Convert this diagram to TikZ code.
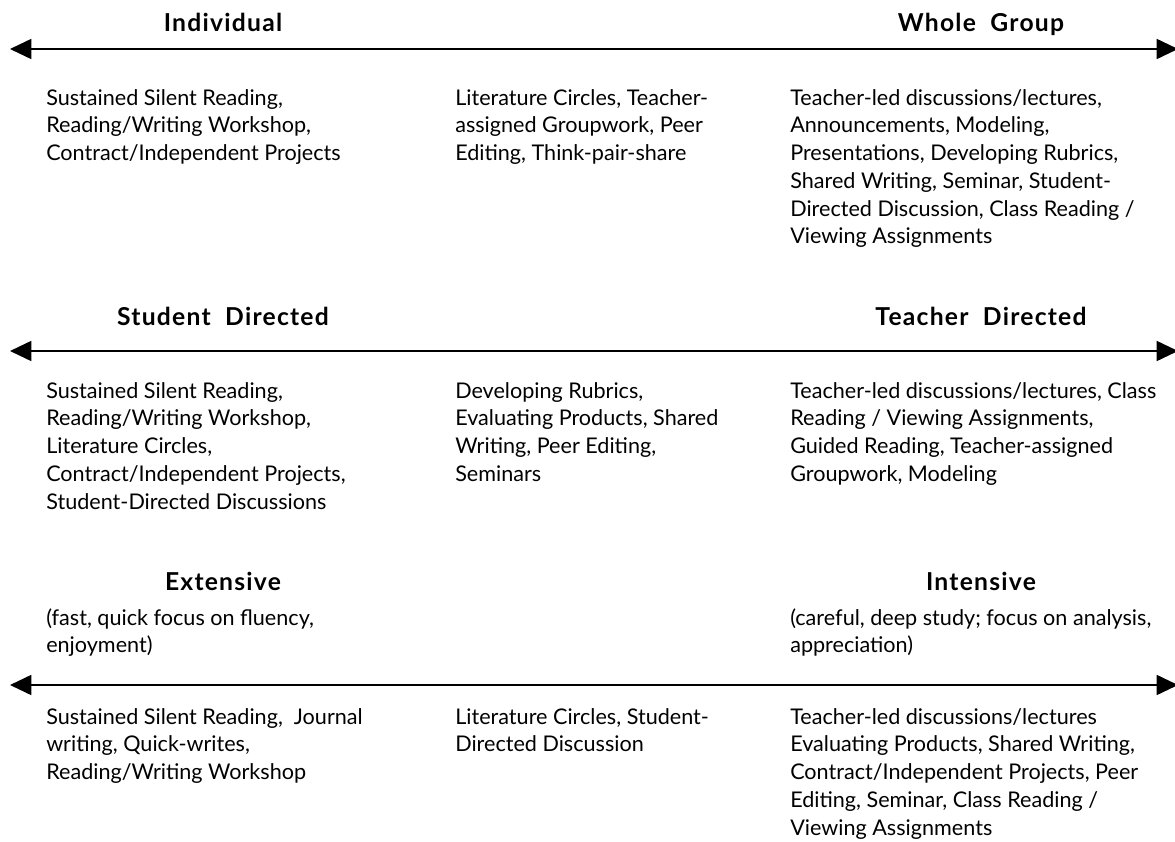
\documentclass[tikz,border=0pt]{standalone}
\usepackage{fontspec}
\setmainfont{Lato}
\usetikzlibrary{arrows.meta}

\begin{document}
\begin{tikzpicture}[x=0.75pt, y=-0.75pt,
    head/.style={anchor=base, inner sep=0pt, font=\fontsize{18.5}{22}\selectfont\bfseries\addfontfeature{LetterSpace=5}},
    list/.style={anchor=north west, inner sep=0pt, align=left, font=\fontsize{16.2}{20.8}\selectfont},
    axis/.style={line width=1.3pt, {Triangle[length=16pt,width=15pt]}-{Triangle[length=16pt,width=15pt]}}]
    \useasboundingbox (0,0) rectangle (1175,842);
    \coordinate (L1) at (10,49);   \coordinate (R1) at (1178,49);
    \coordinate (L2) at (10,351);  \coordinate (R2) at (1178,351);
    \coordinate (L3) at (10,685);  \coordinate (R3) at (1178,685);
    \foreach \n in {1,2,3} \draw[axis] (L\n) -- (R\n);
    \node[head] (indiv) at (223,32) {Individual};
    \node[head] (whole) at (981,32) {Whole\ \ Group};
    \node[head] (sdir) at (223,325) {Student\ \ Directed};
    \node[head] (tdir) at (981,325) {Teacher\ \ Directed};
    \node[head] (ext) at (223,590) {Extensive};
    \node[head] (int) at (981,590) {Intensive};
    \node[list] (a1) at (46,89) {Sustained Silent Reading,\\Reading/Writing Workshop,\\Contract/Independent Projects};
    \node[list] (a2) at (455,89) {Literature Circles, Teacher-\\assigned Groupwork, Peer\\Editing, Think-pair-share};
    \node[list] (a3) at (790,89) {Teacher-led discussions/lectures,\\Announcements, Modeling,\\Presentations, Developing Rubrics,\\Shared Writing, Seminar, Student-\\Directed Discussion, Class Reading /\\Viewing Assignments};
    \node[list] (b1) at (46,382) {Sustained Silent Reading,\\Reading/Writing Workshop,\\Literature Circles,\\Contract/Independent Projects,\\Student-Directed Discussions};
    \node[list] (b2) at (455,382) {Developing Rubrics,\\Evaluating Products, Shared\\Writing, Peer Editing,\\Seminars};
    \node[list] (b3) at (790,382) {Teacher-led discussions/lectures, Class\\Reading / Viewing Assignments,\\Guided Reading, Teacher-assigned\\Groupwork, Modeling};
    \node[list] (extnote) at (46,608) {(fast, quick focus on fluency,\\enjoyment)};
    \node[list] (intnote) at (790,608) {(careful, deep study; focus on analysis,\\appreciation)};
    \node[list] (c1) at (46,708) {Sustained Silent Reading,\ \ Journal\\writing, Quick-writes,\\Reading/Writing Workshop};
    \node[list] (c2) at (455,708) {Literature Circles, Student-\\Directed Discussion};
    \node[list] (c3) at (790,708) {Teacher-led discussions/lectures\\Evaluating Products, Shared Writing,\\Contract/Independent Projects, Peer\\Editing, Seminar, Class Reading /\\Viewing Assignments};
\end{tikzpicture}
\end{document}
